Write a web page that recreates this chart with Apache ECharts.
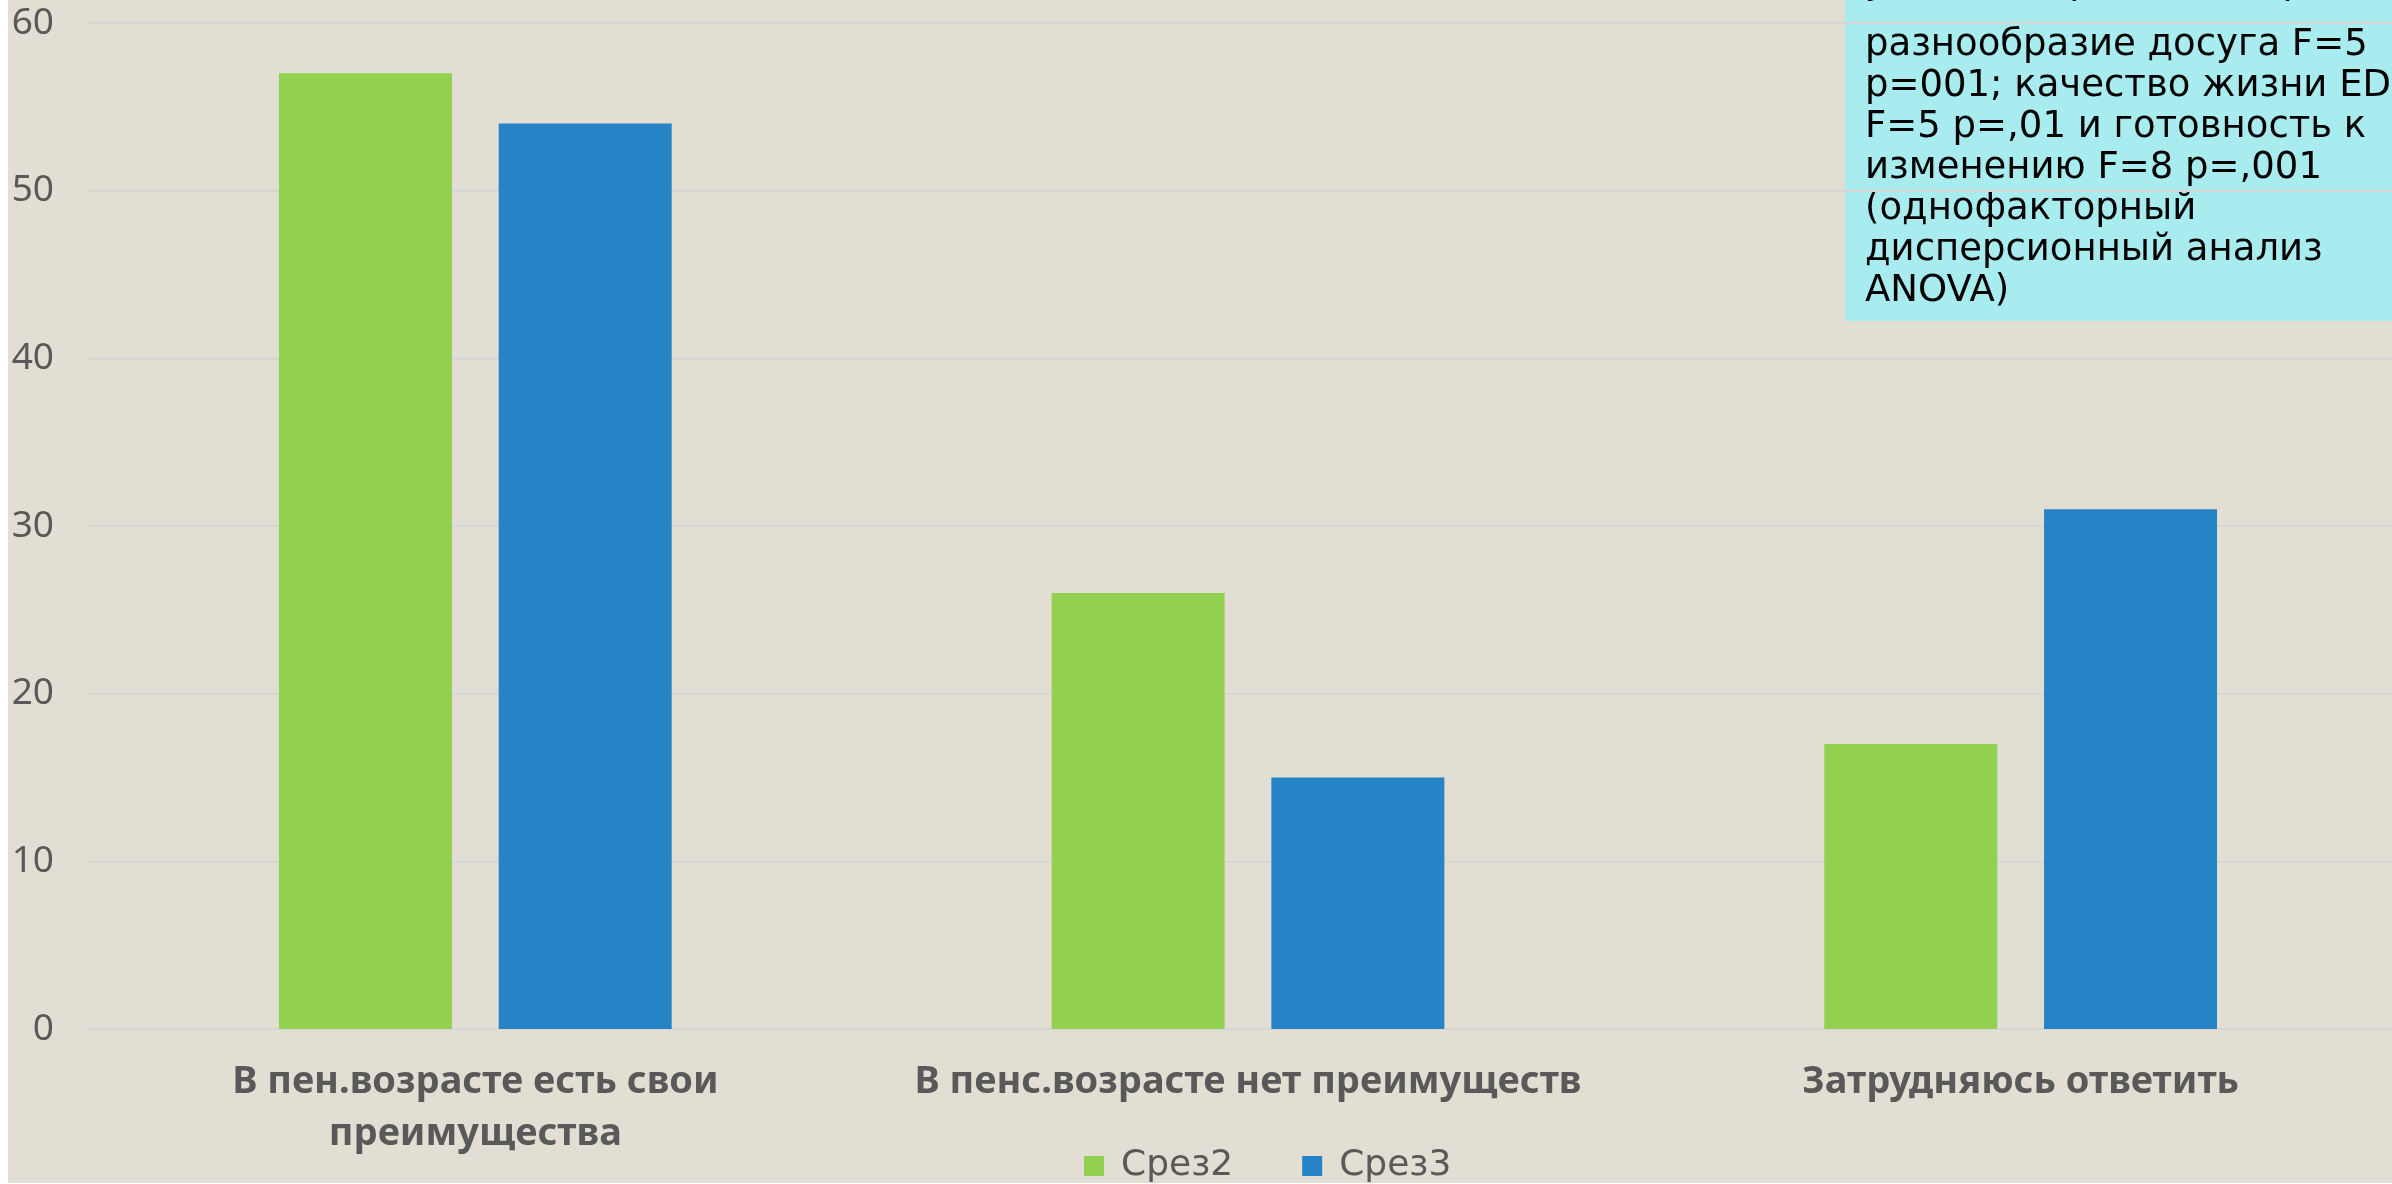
<!DOCTYPE html>
<html>
<head>
<meta charset="utf-8">
<script src="https://cdn.jsdelivr.net/npm/echarts@6/dist/echarts.min.js"></script>
<style>
  html, body { margin: 0; padding: 0; background: #fff; overflow: hidden; }
  #chart { position: absolute; left: 8px; top: 0; width: 2384px; height: 1183px; }
</style>
</head>
<body>
<div id="chart"></div>
<script>
// категории
const categories = ['В пен.возрасте есть свои\nпреимущества', 'В пенс.возрасте нет преимуществ', 'Затрудняюсь ответить'];
// серии
const seriesNames = ['Срез2', 'Срез3'];
const srez2 = [57, 26, 17];
const srez3 = [54, 15, 31];
const colors = ['#92D050', '#2683C6'];
// текст в плашке справа (первая строка почти срезана краем слайда)
const noteFirstLine = 'удовлетворенность средой, доход,';
const noteLines = [
    'разнообразие досуга F=5',
    'p=001; качество жизни ED',
    'F=5 p=,01 и готовность к',
    'изменению F=8 p=,001',
    '(однофакторный',
    'дисперсионный анализ',
    'ANOVA)'
];

let myChart = echarts.init(document.getElementById('chart'));

myChart.setOption({
    backgroundColor: '#E3DED3',
    animation: false,
    color: colors,
    grid: {
        left: 81,
        width: 2318,
        top: 23,
        bottom: 154,
        outerBoundsMode: 'none'
    },
    legend: {
        data: seriesNames,
        left: 1071,
        top: 1143,
        itemWidth: 20,
        itemHeight: 20,
        itemGap: 69,
        icon: 'rect',
        textStyle: {
            fontFamily: 'DejaVu Sans',
            fontSize: 36,
            color: '#595959',
            padding: [0, 0, 0, 12]
        }
    },
    xAxis: {
        type: 'category',
        data: categories,
        axisLine: { show: true, lineStyle: { color: '#D6D6D4', width: 2 } },
        axisTick: { show: false },
        axisLabel: {
            interval: 0,
            margin: 27,
            fontFamily: 'Noto Sans',
            fontWeight: 'bold',
            fontSize: 38,
            lineHeight: 52,
            color: '#595959'
        }
    },
    yAxis: {
        type: 'value',
        min: 0,
        max: 60,
        interval: 10,
        axisLine: { show: false },
        axisTick: { show: false },
        splitLine: { lineStyle: { color: '#D6D6D4', width: 2 } },
        axisLabel: {
            margin: 35,
            fontFamily: 'Noto Sans',
            fontSize: 37,
            color: '#595959'
        }
    },
    graphic: [
        {
            type: 'rect',
            z: -1,
            shape: { x: 1837, y: -10, width: 600, height: 331 },
            style: { fill: '#A9ECEF' }
        },
        {
            type: 'text',
            z: -1,
            x: 1857,
            y: -37,
            style: {
                text: noteFirstLine,
                fontFamily: 'DejaVu Sans',
                fontSize: 37,
                lineHeight: 41,
                fill: '#000'
            }
        },
        {
            type: 'text',
            z: -1,
            x: 1857,
            y: 25,
            style: {
                text: noteLines.join('\n'),
                fontFamily: 'DejaVu Sans',
                fontSize: 37,
                lineHeight: 41,
                fill: '#000'
            }
        }
    ],
    series: [
        {
            name: seriesNames[0],
            type: 'bar',
            data: srez2,
            barWidth: 173,
            barGap: '27%'
        },
        {
            name: seriesNames[1],
            type: 'bar',
            data: srez3,
            barWidth: 173,
            barGap: '27%'
        }
    ]
});

window.addEventListener('resize', () => {
    myChart.resize();
});
</script>
</body>
</html>
